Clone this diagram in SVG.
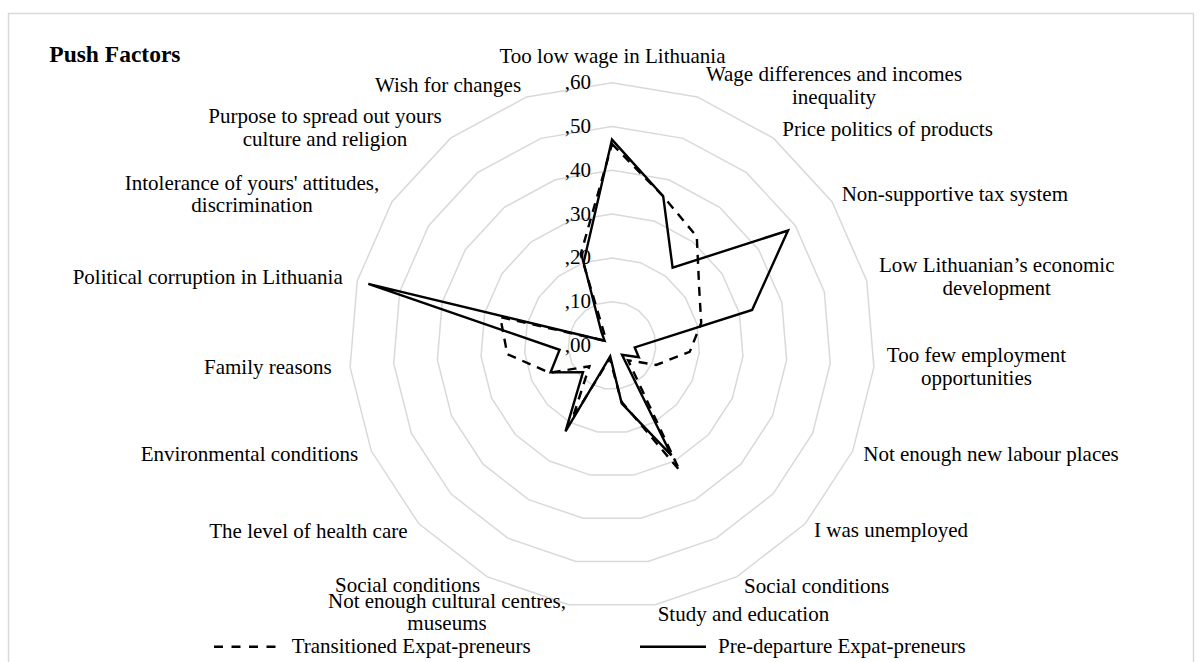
<svg xmlns="http://www.w3.org/2000/svg" xmlns:xlink="http://www.w3.org/1999/xlink" width="1203" height="662" viewBox="0 0 1203 662">
  <style>
    .lbl { font-family: "Liberation Serif", "Times New Roman", serif; font-size: 21px; fill: #000; }
    .mid { text-anchor: middle; }
    .end { text-anchor: end; }
    .title { font-family: "Liberation Serif", "Times New Roman", serif; font-size: 23.5px; font-weight: bold; fill: #000; }
    .ring { fill: none; stroke: #d9d9d9; stroke-width: 1.5; vector-effect: non-scaling-stroke; }
    .solid { fill: none; stroke: #000; stroke-width: 2.4; stroke-linejoin: miter; }
    .dashed { fill: none; stroke: #000; stroke-width: 2.4; stroke-dasharray: 9 7; stroke-linejoin: miter; }
  </style>
  <defs>
    <polygon id="ring" class="ring" points="0,-1 0.3247,-0.9458 0.6142,-0.7891 0.8372,-0.5469 0.9694,-0.2455 0.9966,0.0826 0.9158,0.4017 0.7357,0.6773 0.4759,0.8795 0.1646,0.9864 -0.1646,0.9864 -0.4759,0.8795 -0.7357,0.6773 -0.9158,0.4017 -0.9966,0.0826 -0.9694,-0.2455 -0.8372,-0.5469 -0.6142,-0.7891 -0.3247,-0.9458"/>
  </defs>
  <rect x="0" y="0" width="1203" height="662" fill="#fff"/>
  <rect id="frame" x="8.5" y="13.5" width="1185" height="700" fill="none" stroke="#d9d9d9" stroke-width="1.5"/>

  <g id="grid">
    <use xlink:href="#ring" transform="translate(612 345.5) scale(43.8)"/>
    <use xlink:href="#ring" transform="translate(612 345.5) scale(87.6)"/>
    <use xlink:href="#ring" transform="translate(612 345.5) scale(131.4)"/>
    <use xlink:href="#ring" transform="translate(612 345.5) scale(175.2)"/>
    <use xlink:href="#ring" transform="translate(612 345.5) scale(219)"/>
    <use xlink:href="#ring" transform="translate(612 345.5) scale(262.8)"/>
  </g>

  <g id="axis-values" class="lbl end">
    <text x="591" y="352">,00</text>
    <text x="591" y="308.2">,10</text>
    <text x="591" y="264.4">,20</text>
    <text x="591" y="220.6">,30</text>
    <text x="591" y="176.8">,40</text>
    <text x="591" y="133">,50</text>
    <text x="591" y="89.2">,60</text>
  </g>

  <g id="series">
    <polygon id="transitioned" class="dashed" points="612,144 663.2,196.3 696.8,236.6 699.2,288.5 701.2,322.9 689.7,351.9 656.1,364.9 628.1,360.3 679.8,470.7 621.4,401.6 609.8,358.4 572.4,418.7 589.4,366.3 549.8,372.8 507.3,354.2 500.3,317.2 604.6,340.7 605.2,336.8 580.7,254.3"/>
    <polygon id="pre-departure" class="solid" points="612,139.6 663.2,196.3 672.6,267.7 788,230.5 752.1,310 634.7,347.4 638.8,357.3 622,354.7 671.4,455.3 621.7,403.4 610.2,356.4 565.5,431.4 583,372.2 550.6,372.4 559.6,349.8 368.3,283.8 604.6,340.7 601.3,331.7 583.6,262.6"/>
  </g>

  <g id="title"><text class="title" x="49.3" y="61.7">Push Factors</text></g>

  <g id="category-labels" class="lbl">
    <g id="c0"><text class="mid" x="612.5" y="63">Too low wage in Lithuania</text></g>
    <g id="c1"><text class="mid" x="834" y="80.7">Wage differences and incomes</text><text class="mid" x="834" y="104">inequality</text></g>
    <g id="c2"><text x="782.3" y="136">Price politics of products</text></g>
    <g id="c3"><text x="841.7" y="201.3">Non-supportive tax system</text></g>
    <g id="c4"><text class="mid" x="996.7" y="272.3">Low Lithuanian’s economic</text><text class="mid" x="996.7" y="294.5">development</text></g>
    <g id="c5"><text class="mid" x="976.5" y="361.7">Too few employment</text><text class="mid" x="976.5" y="384.5">opportunities</text></g>
    <g id="c6"><text x="863.3" y="461.3">Not enough new labour places</text></g>
    <g id="c7"><text x="814" y="537">I was unemployed</text></g>
    <g id="c8"><text x="744" y="592.7">Social conditions</text></g>
    <g id="c9"><text x="657.7" y="621">Study and education</text></g>
    <g id="c10"><text class="mid" x="447" y="608">Not enough cultural centres,</text><text class="mid" x="447" y="630">museums</text></g>
    <g id="c11"><text x="335" y="591.5">Social conditions</text></g>
    <g id="c12"><text x="209.3" y="538.3">The level of health care</text></g>
    <g id="c13"><text x="140.7" y="461.3">Environmental conditions</text></g>
    <g id="c14"><text x="204" y="374.3">Family reasons</text></g>
    <g id="c15"><text x="72.7" y="284">Political corruption in Lithuania</text></g>
    <g id="c16"><text class="mid" x="252" y="190">Intolerance of yours' attitudes,</text><text class="mid" x="252" y="212.3">discrimination</text></g>
    <g id="c17"><text class="mid" x="325" y="123">Purpose to spread out yours</text><text class="mid" x="325" y="146">culture and religion</text></g>
    <g id="c18"><text x="375" y="91.7">Wish for changes</text></g>
  </g>

  <g id="legend">
    <line x1="214" y1="646.7" x2="280" y2="646.7" stroke="#000" stroke-width="2.4" stroke-dasharray="9 8.5"/>
    <text class="lbl" x="291.7" y="653.3">Transitioned Expat-preneurs</text>
    <line x1="640" y1="646.7" x2="706" y2="646.7" stroke="#000" stroke-width="2.4"/>
    <text class="lbl" x="718" y="653.3">Pre-departure Expat-preneurs</text>
  </g>
</svg>
